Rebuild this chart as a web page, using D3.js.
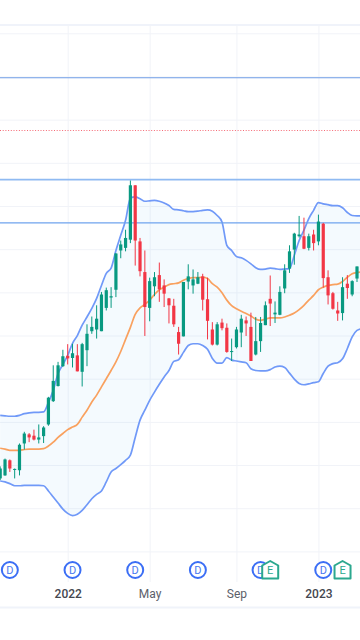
<!DOCTYPE html>
<html>
<head>
<meta charset="utf-8">
<title>Weekly candles with Bollinger bands</title>
<script src="https://cdn.jsdelivr.net/npm/d3@7"></script>
<style>
  html, body { margin: 0; padding: 0; background: #fff; }
  svg { display: block; }
  text { font-family: Roboto, "Noto Sans", sans-serif; }
</style>
</head>
<body>
<div id="chart"></div>
<script>
// Candles, one per week
const opens = [46.9,47.6,51.1,49.0,48.8,55.0,57.1,56.8,55.9,56.7,
  59.4,64.8,68.3,72.9,75.3,74.8,75.4,71.6,76.6,81.0,
  81.4,81.0,86.4,88.8,90.6,99.7,100.3,102.2,114.8,101.8,
  94.7,86.4,91.4,94.0,91.6,88.6,86.9,80.8,79.8,92.5,
  91.6,92.0,93.7,88.4,81.4,77.9,83.0,81.8,76.2,77.3,
  80.7,83.5,82.0,75.6,78.7,82.4,88.5,84.9,84.8,90.9,
  95.5,99.9,103.0,103.0,100.3,103.4,101.8,105.9,93.5,89.8,
  85.8,85.2,92.0,89.5,93.2];
const highs = [49.7,51.5,51.3,49.2,55.0,57.7,57.4,58.2,59.4,59.0,
  65.8,73.1,73.9,76.7,78.0,78.1,78.0,78.3,82.6,84.4,
  87.0,90.1,91.1,91.2,99.1,102.0,104.5,115.9,114.8,102.6,
  99.7,93.4,94.7,96.9,93.0,88.7,88.5,82.0,92.4,96.5,
  95.3,94.7,94.3,93.4,83.1,83.1,83.9,82.8,79.3,82.0,
  84.8,84.4,85.3,84.3,84.3,87.9,93.9,87.9,91.4,96.5,
  100.9,103.8,107.7,107.3,103.6,104.5,108.0,106.1,95.1,90.1,
  87.8,93.5,94.0,92.8,96.0];
const lows = [46.5,47.5,48.4,46.9,47.6,53.6,55.3,55.7,55.0,55.1,
  59.1,64.6,68.2,72.7,73.3,72.6,71.7,68.2,72.9,80.4,
  79.3,81.0,85.8,86.4,88.9,97.9,99.5,101.4,96.2,93.7,
  79.9,83.3,89.1,87.8,86.6,82.8,82.0,75.6,79.8,90.7,
  89.7,91.9,85.8,79.1,77.7,77.7,81.2,76.0,74.1,77.0,
  77.3,79.9,74.1,75.4,76.2,82.4,82.2,82.9,84.7,89.8,
  94.5,96.4,102.7,100.0,99.7,99.7,100.9,91.1,87.2,86.0,
  83.4,83.5,88.5,89.1,92.4];
const closes = [49.2,51.3,49.2,49.1,54.7,57.3,56.4,55.9,56.4,58.7,
  65.6,69.5,73.1,75.2,74.7,75.9,71.7,78.0,80.4,82.0,
  83.9,89.5,90.5,89.1,99.0,101.1,102.6,114.8,102.0,94.9,
  86.6,92.6,93.5,90.7,89.7,87.0,82.6,78.1,92.4,93.7,
  93.0,93.5,88.3,83.4,77.9,82.6,81.7,76.2,76.4,81.4,
  83.9,82.8,74.1,78.7,82.9,87.0,87.4,85.3,90.1,95.1,
  99.5,103.6,103.4,100.1,103.0,101.4,106.4,93.3,89.3,86.2,
  85.1,91.2,91.0,92.6,96.0];

// Bollinger bands and their middle line, the last point runs past the right edge
const upperBand = [61.5,61.4,61.3,61.3,61.5,61.9,62.1,62.2,62.2,62.3,
  64.5,67.3,71.2,73.3,75.4,78.2,80.0,82.4,84.3,86.3,
  88.6,91.6,94.4,95.6,99.7,103.2,106.7,111.8,112.1,111.7,
  111.1,111.2,111.3,111.1,110.7,110.1,109.2,109.1,108.9,108.7,
  108.7,108.8,109.0,109.1,108.8,107.8,106.3,100.9,99.7,98.3,
  98.0,97.4,96.6,95.7,95.3,95.4,95.6,95.5,95.3,95.4,
  95.5,98.6,102.0,104.4,107.1,109.0,110.8,110.5,110.3,110.1,
  110.1,109.6,108.5,107.8,107.7,107.7];
const lowerBand = [46.3,46.1,45.7,45.2,45.2,45.3,45.3,45.3,45.3,45.2,
  44.0,42.6,41.2,39.8,38.8,38.3,38.6,39.5,40.8,42.2,
  43.2,44.0,46.1,48.4,49.2,50.1,51.1,52.3,56.4,60.4,
  62.7,65.0,66.9,68.7,70.4,71.9,74.0,74.4,76.1,77.7,
  78.1,78.1,77.7,76.8,74.7,73.6,73.6,74.9,74.3,74.1,
  73.9,73.7,72.3,71.9,71.8,71.8,72.1,72.7,72.9,72.6,
  71.3,69.9,68.9,68.6,68.8,69.1,69.3,71.2,72.9,73.5,
  73.7,74.6,77.0,79.7,81.2,81.6];
const middleBand = [53.9,53.7,53.4,53.4,53.4,53.6,53.7,53.7,53.7,53.8,
  54.4,55.3,56.4,57.3,58.2,58.8,59.4,61.1,62.7,64.6,
  66.2,68.1,70.0,71.9,73.9,76.3,79.1,81.9,84.9,86.4,
  87.2,88.2,89.5,90.6,91.2,91.8,92.0,92.2,92.8,93.2,
  93.4,93.4,93.5,93.2,92.0,91.2,89.9,88.2,86.9,86.2,
  85.6,85.1,84.5,83.8,83.5,83.8,84.1,84.1,84.1,84.3,
  84.7,85.2,86.0,87.0,88.2,89.3,90.6,91.2,91.6,91.8,
  91.9,92.5,93.5,94.3,94.6,94.7];

// Axis ticks
const priceTicks = [30,40,50,60,70,80,90,100,110,120,130,140,150];
const timeTicks = [14,31,49,66];
const timeLabels = ['2022','May','Sep','2023'];
const yearLabels = ['2022','2023'];

// Horizontal levels
const solidLevels = [
  {price: 139.7, color: '#6f9de6', width: 1.2},
  {price: 116.1, color: '#8fbaf2', width: 1.6},
  {price: 106.1, color: '#6fa3ee', width: 1.2}
];
const dottedLevel = 127.4;

// Event flags, by candle
const dividends = [2,15,28,41,54,67];
const earnings = [56,71];

const width = 360, height = 640;
const green = '#089981', red = '#f23645';
const gridColor = '#f1f3f8';

const svg = d3.select('#chart').append('svg')
  .attr('width', width)
  .attr('height', height);

const x = d3.scaleLinear().domain([0, 74]).range([0.2, 357]);
const y = d3.scaleLinear().domain([30, 150]).range([551.4, 33.3]);

// frame
svg.selectAll('.frame')
  .data([25, 607.5])
  .enter().append('line')
  .attr('x1', 0).attr('x2', width)
  .attr('y1', d => d).attr('y2', d => d)
  .attr('stroke', '#f0f3fa')
  .attr('stroke-width', 2);

// grid
const gridY = svg.append('g').call(
  d3.axisRight(y).tickValues(priceTicks).tickSize(width).tickFormat('')
);
gridY.select('.domain').remove();
gridY.selectAll('line').attr('stroke', gridColor);

const gridX = svg.append('g').attr('transform', 'translate(0,582)').call(
  d3.axisTop(x).tickValues(timeTicks).tickSize(557).tickFormat('')
);
gridX.select('.domain').remove();
gridX.selectAll('line').attr('stroke', gridColor);

// band fill and its three lines
const area = d3.area()
  .x((d, i) => x(i))
  .y0((d, i) => y(lowerBand[i]))
  .y1(d => y(d))
  .curve(d3.curveMonotoneX);

const line = d3.line()
  .x((d, i) => x(i))
  .y(d => y(d))
  .curve(d3.curveMonotoneX);

svg.append('path')
  .datum(upperBand)
  .attr('d', area)
  .attr('fill', '#2196f3')
  .attr('fill-opacity', 0.05);

[upperBand, lowerBand].forEach(band => {
  svg.append('path')
    .datum(band)
    .attr('d', line)
    .attr('fill', 'none')
    .attr('stroke', '#7099f8')
    .attr('stroke-width', 1.7);
});

svg.append('path')
  .datum(middleBand)
  .attr('d', line)
  .attr('fill', 'none')
  .attr('stroke', '#f9a15f')
  .attr('stroke-width', 1.7);

// levels
svg.selectAll('.level')
  .data(solidLevels)
  .enter().append('line')
  .attr('x1', 0).attr('x2', width)
  .attr('y1', d => y(d.price))
  .attr('y2', d => y(d.price))
  .attr('stroke', d => d.color)
  .attr('stroke-width', d => d.width);

svg.append('line')
  .attr('x1', 0).attr('x2', width)
  .attr('y1', Math.floor(y(dottedLevel)) + 0.5)
  .attr('y2', Math.floor(y(dottedLevel)) + 0.5)
  .attr('stroke', '#f23645')
  .attr('stroke-opacity', 0.75)
  .attr('stroke-dasharray', '1 1.7');

// candles
const candles = svg.append('g')
  .selectAll('g')
  .data(closes)
  .enter().append('g')
  .attr('fill', (d, i) => d >= opens[i] ? green : red)
  .attr('stroke', (d, i) => d >= opens[i] ? green : red);

candles.append('line')
  .attr('x1', (d, i) => x(i)).attr('x2', (d, i) => x(i))
  .attr('y1', (d, i) => y(highs[i]))
  .attr('y2', (d, i) => y(lows[i]))
  .attr('stroke-width', 1);

candles.append('rect')
  .attr('x', (d, i) => x(i) - 1.6)
  .attr('width', 3.2)
  .attr('y', (d, i) => y(Math.max(opens[i], d)))
  .attr('height', (d, i) => Math.max(1, Math.abs(y(opens[i]) - y(d))))
  .attr('stroke', 'none');

// dividend flags
const dividendFlags = svg.append('g')
  .selectAll('g')
  .data(dividends)
  .enter().append('g')
  .attr('transform', d => `translate(${x(d)},570)`);

dividendFlags.append('circle')
  .attr('r', 8)
  .attr('fill', '#fff')
  .attr('stroke', '#3b6ef5')
  .attr('stroke-width', 2);

dividendFlags.append('text')
  .attr('text-anchor', 'middle')
  .attr('dy', '0.36em')
  .attr('font-size', 11)
  .attr('fill', '#4a78f0')
  .text('D');

// earnings flags
const earningsFlags = svg.append('g')
  .selectAll('g')
  .data(earnings)
  .enter().append('g')
  .attr('transform', d => `translate(${x(d)},570)`);

earningsFlags.append('path')
  .attr('d', 'M-8,-4.5L0,-9L8,-4.5L8,8.5L-8,8.5Z')
  .attr('fill', '#fff')
  .attr('stroke', '#2ba88f')
  .attr('stroke-width', 2)
  .attr('stroke-linejoin', 'round');

earningsFlags.append('text')
  .attr('text-anchor', 'middle')
  .attr('dy', '0.36em')
  .attr('font-size', 11)
  .attr('fill', '#2ba88f')
  .text('E');

// time labels
const axisX = svg.append('g').attr('transform', 'translate(0,586)').call(
  d3.axisBottom(x).tickValues(timeTicks).tickSize(0).tickPadding(3)
    .tickFormat((d, i) => timeLabels[i])
);
axisX.select('.domain').remove();
axisX.selectAll('text')
  .attr('font-size', 12)
  .attr('fill', d => yearLabels.includes(timeLabels[timeTicks.indexOf(d)]) ? '#44474f' : '#5c606a')
  .attr('font-weight', d => yearLabels.includes(timeLabels[timeTicks.indexOf(d)]) ? 500 : 400);
</script>
</body>
</html>
